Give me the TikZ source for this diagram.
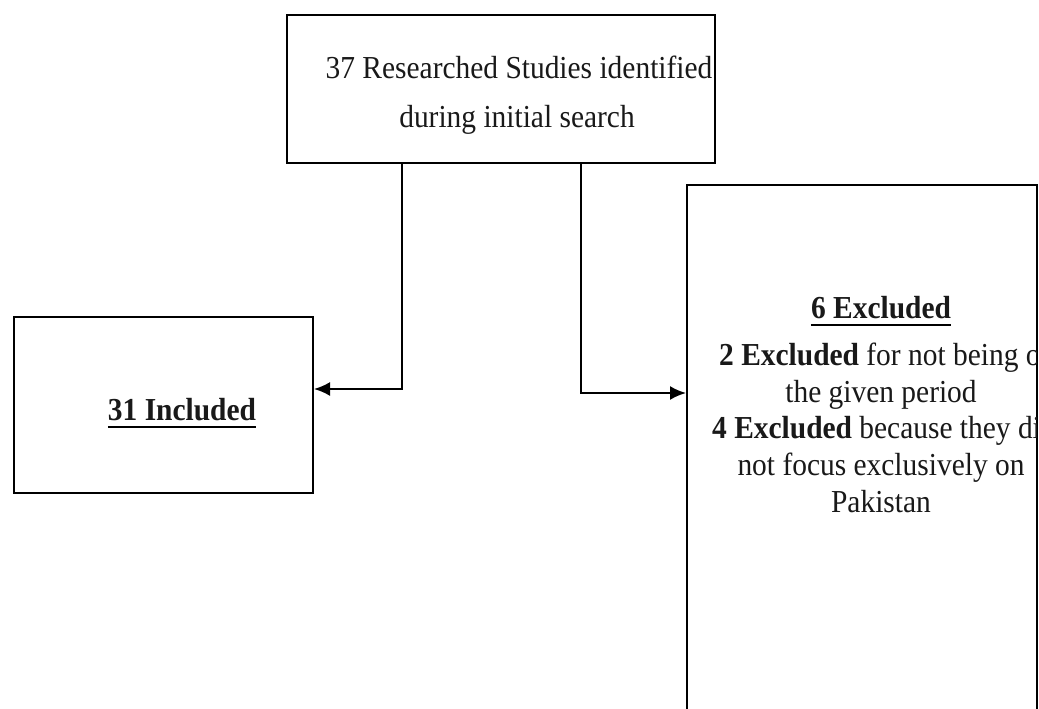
\documentclass[tikz,border=0pt]{standalone}
\usepackage{fontspec}
\setmainfont{Liberation Serif}[FakeStretch=0.92]
\usetikzlibrary{arrows.meta}
\tikzset{
  box/.style={draw=black, line width=2pt, fill=white, inner sep=0pt},
  txt/.style={inner sep=0pt, anchor=base, font=\fontsize{32}{37}\selectfont, text=black!90},
  txtl/.style={txt, anchor=base west},
  arr/.style={draw=black, line width=2pt, -{Latex[length=16pt,width=14pt]}},
  uline/.style={draw=black, line width=2.2pt}
}
\begin{document}
\begin{tikzpicture}[x=1pt,y=-1pt]
\clip (0,0) rectangle (1039,709);
\fill[white] (0,0) rectangle (1039,709);
% boxes
\node[box, minimum width=428pt, minimum height=148pt] (top) at (500.5,89) {};
\node[box, minimum width=299pt, minimum height=176pt] (incl) at (163.5,405) {};
\node[box, minimum width=350pt, minimum height=545pt] (excl) at (862,457.5) {};
% texts
\node[txt] (t1) at (519,78) {37 Researched Studies identified};
\node[txt] (t2) at (517,128) {during initial search};
\node[txt] (inc) at (182,420) {\bfseries 31 Included};
\draw[uline] ([yshift=-7pt]inc.base west) -- ([yshift=-7pt]inc.base east);
\begin{scope}
\clip (687,185) rectangle (1036,709);
\node[txt] (ex6) at (881,318) {\bfseries 6 Excluded};
\node[txtl] (ex2) at (719,365) {\textbf{2 Excluded} for not being of};
\node[txt] (per) at (881,402) {the given period};
\node[txtl] (ex4) at (712,438) {\textbf{4 Excluded} because they did};
\node[txt] (nf) at (881,475) {not focus exclusively on};
\node[txt] (pk) at (881,512) {Pakistan};
\end{scope}
\draw[uline] ([yshift=-7pt]ex6.base west) -- ([yshift=-7pt]ex6.base east);
% connectors
\coordinate (c1) at (402,389);
\coordinate (c2) at (581,393);
\draw[arr] (top.south -| c1) |- (c1 -| incl.east);
\draw[arr] (top.south -| c2) |- (c2 -| excl.west);
\end{tikzpicture}
\end{document}
